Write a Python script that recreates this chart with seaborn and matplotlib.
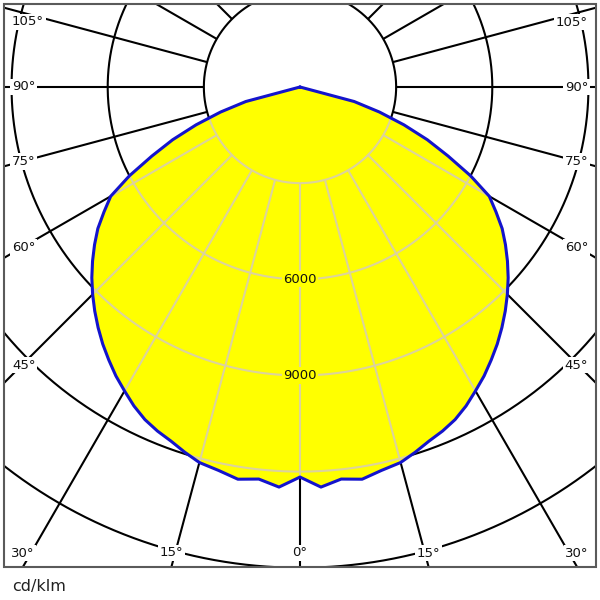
import numpy as np
import matplotlib
matplotlib.use("Agg")
import matplotlib.pyplot as plt
from matplotlib.patches import Rectangle
import seaborn as sns

# ---------------- data ----------------
gamma_deg = [0, 3, 6, 9, 12, 15, 17.5, 20, 22.5, 25, 27.5, 30, 32.5, 35, 37.5,
             40, 42.5, 45, 47.5, 50, 52.5, 55, 57.5, 60, 62.5, 65, 67.5,
             70, 72.5, 75, 80, 90, 105, 120, 135, 150, 165, 180]
intensity_cdklm = [12170, 12500, 12300, 12390, 12230, 12130, 11950, 11760,
                   11620, 11450, 11220, 10950, 10690, 10400, 10110,
                   9800, 9480, 9150, 8810, 8450, 8080, 7700, 7250, 6820,
                   6000, 5100, 4300, 3450, 2600, 1750, 0, 0, 0, 0, 0, 0, 0, 0]
ring_values = [3000, 6000, 9000, 12000, 15000]
ring_label_values = [6000, 9000]
angle_label_deg = [0, 15, 30, 45, 60, 75, 90, 105]
spoke_step_deg = 15
unit_label = "cd/klm"

# ---------------- layout (pixels) ----------------
W = H = 600
DPI = 100
CX, CY = 300.0, 87.0                  # pole position, px from top-left
PX_PER_CD = 96.15 / 3000.0
R_MAX = 18000
FRAME_L, FRAME_T, FRAME_R, FRAME_B = 4, 4, 596, 567
LAB_XL, LAB_XR, LAB_YT, LAB_YB = 22, 578, 22, 553

sns.set_style("white")
plt.rcParams["font.family"] = ["DejaVu Sans"]

fig = plt.figure(figsize=(W / DPI, H / DPI), dpi=DPI, facecolor="white")
R_px = R_MAX * PX_PER_CD
ax = fig.add_axes([(CX - R_px) / W, (H - CY - R_px) / H, 2 * R_px / W, 2 * R_px / H],
                  projection="polar")
ax.set_theta_zero_location("S")
ax.set_theta_direction(1)

frame_clip = Rectangle((FRAME_L / W, 1 - FRAME_B / H), (FRAME_R - FRAME_L) / W,
                       (FRAME_B - FRAME_T) / H, transform=fig.transFigure)

g = np.asarray(gamma_deg, dtype=float)
I = np.asarray(intensity_cdklm, dtype=float)
theta_full = np.deg2rad(np.concatenate([-g[::-1], g[1:]]))
r_full = np.concatenate([I[::-1], I[1:]])

theta_ring = np.linspace(0, 2 * np.pi, 1441)
spokes = np.deg2rad(np.arange(0, 360, spoke_step_deg))


def draw_grid(color, z, clip):
    for rv in ring_values:
        ln, = ax.plot(theta_ring, np.full_like(theta_ring, rv), color=color,
                      lw=1.5, zorder=z, solid_capstyle="butt")
        ln.set_clip_path(clip)
    for sp in spokes:
        ln, = ax.plot([sp, sp], [ring_values[0], R_MAX], color=color, lw=1.5,
                      zorder=z, solid_capstyle="butt")
        ln.set_clip_path(clip)


# black grid outside the light distribution
draw_grid("black", 1, frame_clip)

# yellow light distribution
poly = ax.fill(theta_full, r_full, color="#ffff00", lw=0, zorder=2)[0]

# pale grid inside the distribution
draw_grid("#dcd39c", 3, poly)

# blue outline
sns.lineplot(x=theta_full, y=r_full, sort=False, estimator=None, color="#1414cc",
             lw=2.2, ax=ax, zorder=5)

# ring value labels
for v in ring_label_values:
    ax.text(0, v, str(v), ha="center", va="center", fontsize=9.5, color="#111111",
            zorder=4, bbox=dict(boxstyle="square,pad=0.12", fc="#ffff00", ec="none"))


def px_to_polar(x, y):
    dx, dy = x - CX, y - CY
    return np.arctan2(dx, dy), np.hypot(dx, dy) / PX_PER_CD


for a in angle_label_deg:
    for s in ([1] if a == 0 else [-1, 1]):
        ar = np.deg2rad(a)
        ha = "center"
        if a == 0:
            x, y = CX, LAB_YB
        else:
            edge = LAB_XR if s > 0 else LAB_XL
            t = abs(edge - CX) / np.sin(ar)
            y_at = CY + t * np.cos(ar)
            if y_at > LAB_YB:
                tb = (FRAME_B - CY) / np.cos(ar)
                x = CX + s * tb * np.sin(ar)
                x = min(max(x, LAB_XL + 1), LAB_XR - 1)
                y = LAB_YB
            else:
                y = max(y_at, LAB_YT)
                x = FRAME_R - 8 if s > 0 else FRAME_L + 8
                ha = "right" if s > 0 else "left"
        th, rr = px_to_polar(x, y)
        ax.text(th, rr, f"{a}°", ha=ha, va="center", fontsize=9.5, color="#111111",
                zorder=6, bbox=dict(boxstyle="square,pad=0.12", fc="white", ec="none"))

ax.set_ylim(0, R_MAX)
ax.set_xlabel("")
ax.set_ylabel("")
ax.axis("off")

fig.add_artist(Rectangle((FRAME_L / W, 1 - FRAME_B / H), (FRAME_R - FRAME_L) / W,
                         (FRAME_B - FRAME_T) / H, transform=fig.transFigure,
                         fill=False, edgecolor="#5a5a5a", lw=1.5, zorder=10))
fig.text(12 / W, 1 - 586 / H, unit_label, ha="left", va="center", fontsize=11.5,
         color="#222222")

fig.savefig("out.png", dpi=DPI, facecolor="white")
